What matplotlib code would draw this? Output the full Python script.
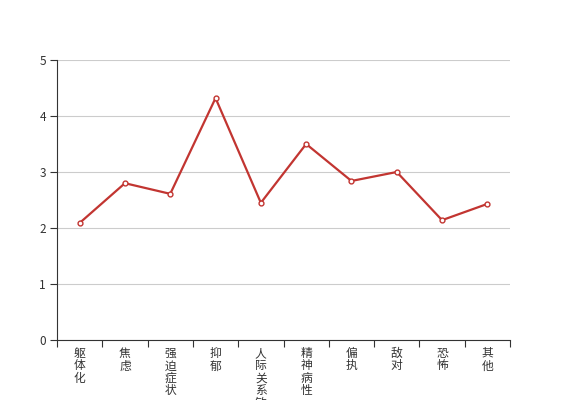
import matplotlib
matplotlib.use('Agg')
import matplotlib.pyplot as plt

plt.rcParams['font.family'] = ['Noto Sans CJK SC', 'DejaVu Sans']

# SCL-90 factor scores
categories = ['躯体化', '焦虑', '强迫症状', '抑郁', '人际关系敏感', '精神病性', '偏执', '敌对', '恐怖', '其他']
scores = [2.09, 2.80, 2.61, 4.32, 2.45, 3.50, 2.84, 3.00, 2.14, 2.43]
y_ticks = [0, 1, 2, 3, 4, 5]

fig = plt.figure(figsize=(5.67, 4.0), dpi=100)
ax = fig.add_axes([57 / 567, 60 / 400, 453 / 567, 280 / 400])

x = list(range(len(categories)))
ax.plot(x, scores, color='#c23531', linewidth=1.6, marker='o', markersize=3.5,
        markerfacecolor='white', markeredgecolor='#c23531', markeredgewidth=1, zorder=3)

ax.set_xlim(-0.5, len(categories) - 0.5)
ax.set_ylim(0, 5)
ax.set_yticks(y_ticks)
ax.yaxis.grid(True, color='#cccccc', linewidth=0.8)
ax.set_axisbelow(True)

# boundary ticks between categories, labels in the middle
ax.set_xticks([i - 0.5 for i in range(len(categories) + 1)])
ax.set_xticklabels([])
ax.set_xticks(x, minor=True)
ax.set_xticklabels(['\n'.join(c) for c in categories], minor=True, va='top',
                   fontsize=8.5, color='#333333', linespacing=0.95)
ax.tick_params(axis='x', which='minor', length=0, pad=5)
ax.tick_params(axis='x', which='major', length=5, color='#333333')
ax.tick_params(axis='y', length=5, color='#333333', labelsize=8.5, labelcolor='#333333', pad=3)

for s in ['top', 'right']:
    ax.spines[s].set_visible(False)
ax.spines['left'].set_color('#333333')
ax.spines['bottom'].set_color('#333333')

fig.savefig('out.png', dpi=100)
